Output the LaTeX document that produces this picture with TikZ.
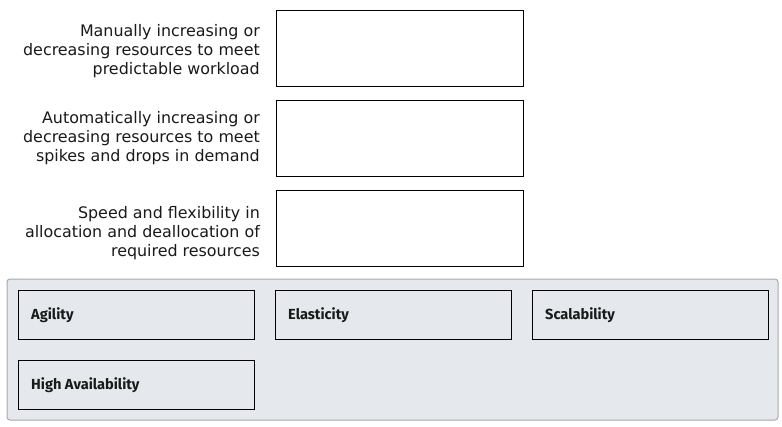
\documentclass[tikz,border=0pt]{standalone}
\usepackage{fontspec}
\setmainfont{DejaVu Sans}
\newfontfamily\lblfont{Fira Sans}
\definecolor{panelfill}{HTML}{E5E9ED}
\definecolor{panelline}{HTML}{A6AAAE}
\definecolor{txt}{HTML}{1A1A1A}
\begin{document}
\begin{tikzpicture}[x=1pt,y=-1pt,
  target/.style={draw=black, line width=1pt, fill=white, minimum width=247pt, minimum height=76pt, anchor=north west, inner sep=0pt},
  desc/.style={anchor=east, align=right, font=\fontsize{15.9}{19}\selectfont, text=txt, inner sep=0pt},
  chip/.style={draw=black, line width=1pt, fill=panelfill, minimum width=236pt, minimum height=49pt, anchor=north west, inner sep=0pt},
  chiplbl/.style={anchor=west, font=\lblfont\bfseries\fontsize{14.6}{16}\selectfont, text=txt, inner sep=0pt}]
\useasboundingbox (0,0) rectangle (782,426);
\fill[white] (0,0) rectangle (782,426);
% targets
\node[target] (t1) at (276,10) {};
\node[target] (t2) at (276,100) {};
\node[target] (t3) at (276,190) {};
\node[desc] (d1) at (260,51.5) {Manually increasing or\\decreasing resources to meet\\predictable workload};
\node[desc] (d2) at (260,138.5) {Automatically increasing or\\decreasing resources to meet\\spikes and drops in demand};
\node[desc] (d3) at (260,233.5) {Speed and flexibility in\\allocation and deallocation of\\required resources};
% panel
\draw[panelline, fill=panelfill, rounded corners=3pt, line width=1pt] (7,279) rectangle (778,420);
\node[chip] (c1) at (18,290) {};
\node[chip] (c2) at (275,290) {};
\node[chip] (c3) at (532,290) {};
\node[chip] (c4) at (18,360) {};
\node[chiplbl] (l1) at (31,315.5) {Agility};
\node[chiplbl] (l2) at (288,315.5) {Elasticity};
\node[chiplbl] (l3) at (545,315.5) {Scalability};
\node[chiplbl] (l4) at (31,385.5) {High Availability};
\end{tikzpicture}
\end{document}
